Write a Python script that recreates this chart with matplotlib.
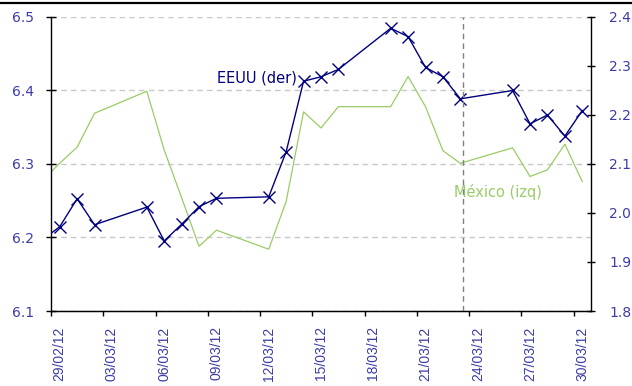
import pandas as pd
import matplotlib.pyplot as plt
import matplotlib.dates as mdates
from matplotlib.lines import Line2D

# días hábiles; el 28/02 queda fuera del eje pero da el tramo inicial de las líneas
fechas = pd.to_datetime([
    '2012-02-28', '2012-02-29', '2012-03-01', '2012-03-02', '2012-03-05',
    '2012-03-06', '2012-03-07', '2012-03-08', '2012-03-09', '2012-03-12',
    '2012-03-13', '2012-03-14', '2012-03-15', '2012-03-16', '2012-03-19',
    '2012-03-20', '2012-03-21', '2012-03-22', '2012-03-23', '2012-03-26',
    '2012-03-27', '2012-03-28', '2012-03-29', '2012-03-30'])
eeuu = [1.945, 1.972, 2.029, 1.976, 2.012, 1.943, 1.977, 2.013, 2.030, 2.033,
        2.125, 2.269, 2.278, 2.293, 2.377, 2.360, 2.297, 2.278, 2.233, 2.250,
        2.182, 2.200, 2.157, 2.209]
mexico = [6.277, 6.301, 6.323, 6.369, 6.399, 6.319, 6.254, 6.188, 6.210, 6.184,
          6.249, 6.371, 6.349, 6.378, 6.378, 6.419, 6.378, 6.318, 6.301, 6.322,
          6.283, 6.292, 6.327, 6.276]
ticks_izq = [6.1, 6.2, 6.3, 6.4, 6.5]
ticks_der = [1.8, 1.9, 2.0, 2.1, 2.2, 2.3, 2.4]
fecha_corte = pd.Timestamp('2012-03-23 16:00')

azul = '#000080'
verde = '#99CC66'
azul_texto = '#3C3CA8'

fig = plt.figure(figsize=(6.32, 3.86), dpi=100)
ax = fig.add_axes([0.0807, 0.1943, 0.8544, 0.7617])
ax2 = ax.twinx()

# cada punto va centrado en su día
x = mdates.date2num(fechas + pd.Timedelta(hours=12))
ax.plot(x, mexico, color=verde, lw=0.9)
ax2.plot(x, eeuu, color=azul, lw=1.0, marker='x', ms=9, mew=1.0)
ax2.axvline(mdates.date2num(fecha_corte), color='#808080', ls=(0, (4, 3)), lw=1.0)

ax.set_xlim(mdates.date2num(pd.Timestamp('2012-02-29')),
            mdates.date2num(pd.Timestamp('2012-03-31')))
ax.set_ylim(6.1, 6.5)
ax2.set_ylim(1.8, 2.4)

ax.set_yticks(ticks_izq)
ax.set_yticklabels([f'{v:.1f}' for v in ticks_izq])
ax2.set_yticks(ticks_der)
ax2.set_yticklabels([f'{v:.1f}' for v in ticks_der])

# marcas cada 3 días, etiquetas centradas en el día
marcas = pd.date_range('2012-02-29', '2012-03-30', freq='3D')
ax.set_xticks(mdates.date2num(marcas))
ax.set_xticklabels([])
ax.set_xticks(mdates.date2num(marcas + pd.Timedelta(hours=12)), minor=True)
ax.set_xticklabels(marcas.strftime('%d/%m/%y'), minor=True)
ax.tick_params(axis='x', which='major', direction='out', length=3.6, width=1.0)
ax.tick_params(axis='x', which='minor', length=0, pad=11, labelrotation=90,
               labelsize=10, labelcolor=azul_texto)
for lbl in ax.get_xticklabels(minor=True):
    lbl.set_fontfamily('Liberation Sans')

ax.tick_params(axis='y', direction='inout', length=6.5, width=1.0, pad=9,
               labelsize=10, labelcolor=azul_texto)
ax2.tick_params(axis='y', direction='inout', length=6, width=1.0, pad=10,
                labelsize=10, labelcolor=azul_texto)

ax.yaxis.grid(True, color='#C8C8C8', ls=(0, (4, 3)), lw=1.0)
ax.set_axisbelow(True)

for a in (ax, ax2):
    a.spines['top'].set_visible(False)
ax.spines['right'].set_visible(False)
ax2.spines['left'].set_visible(False)
for s in ('left', 'bottom'):
    ax.spines[s].set_linewidth(1.0)
ax2.spines['right'].set_linewidth(1.0)

ax2.text(mdates.date2num(pd.Timestamp('2012-03-14 03:00')), 2.276, 'EEUU (der)',
         ha='right', va='center', color=azul, fontsize=10.5)
ax.text(mdates.date2num(pd.Timestamp('2012-03-23 03:00')), 6.262, 'México (izq)',
        ha='left', va='center', color=verde, fontsize=10.5)

fig.add_artist(Line2D([0, 1], [0.9915, 0.9915], transform=fig.transFigure,
                      color='black', lw=1.6))

fig.savefig('out.png', dpi=100)
